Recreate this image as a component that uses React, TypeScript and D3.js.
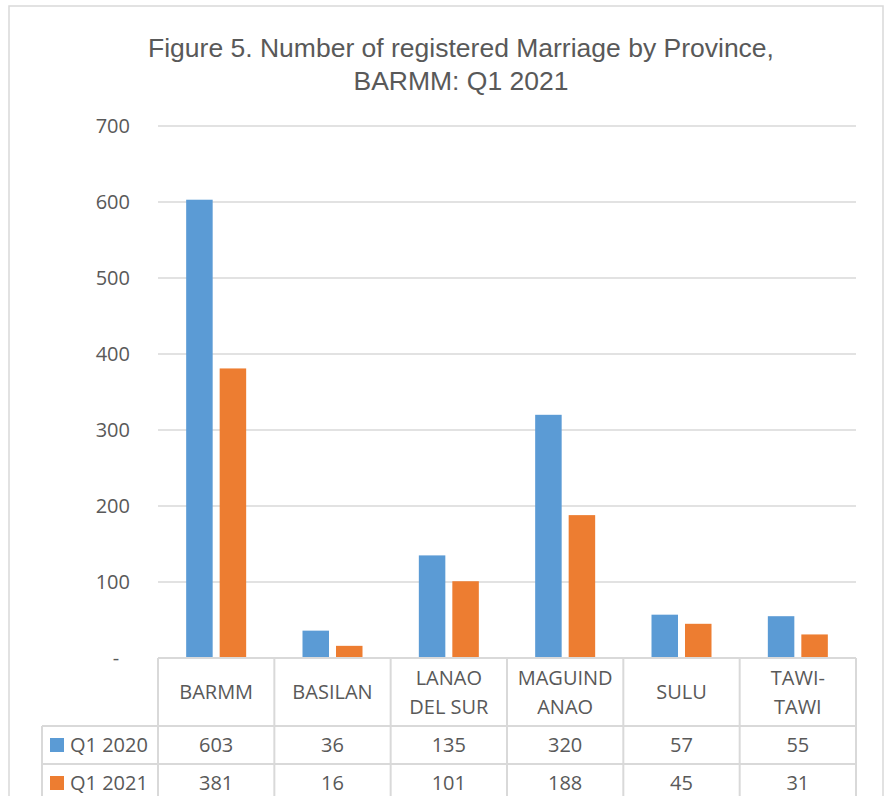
import React from "react";
import * as d3 from "d3";

const categories = ["BARMM", "BASILAN", "LANAO DEL SUR", "MAGUINDANAO", "SULU", "TAWI-TAWI"];
const categoryLines = [["BARMM"], ["BASILAN"], ["LANAO", "DEL SUR"], ["MAGUIND", "ANAO"], ["SULU"], ["TAWI-", "TAWI"]];
const seriesNames = ["Q1 2020", "Q1 2021"];
const q12020 = [603, 36, 135, 320, 57, 55];
const q12021 = [381, 16, 101, 188, 45, 31];
const yTicks = [0, 100, 200, 300, 400, 500, 600, 700];
const colors = ["#5B9BD5", "#ED7D31"];

export default function App() {
  const W = 884, H = 796;
  const plotLeft = 158, plotRight = 856, plotTop = 126, plotBottom = 658;
  const x = d3.scaleBand<string>().domain(categories).range([plotLeft, plotRight]).paddingInner(0).paddingOuter(0);
  const y = d3.scaleLinear().domain([0, 700]).range([plotBottom, plotTop]);
  const bw = x.bandwidth();
  const barW = 26.5, gap = 7;
  const series = [q12020, q12021];
  const grid = "#d9d9d9";
  const text = "#595959";
  const font = "'Open Sans', 'Noto Sans', sans-serif";
  const fs = 20;
  const headerBottom = 726, row1Bottom = 764, row2Bottom = 802;
  const tableLeft = 42;
  const rowTops = [headerBottom, row1Bottom];
  const rowBottoms = [row1Bottom, row2Bottom];

  return (
    <svg width={W} height={H} style={{ position: "absolute", left: 0, top: 0, background: "#fff" }}>
      <rect x={9} y={6} width={874} height={H + 10} fill="#fff" stroke={grid} strokeWidth={1.5} />
      <text x={461} y={57} textAnchor="middle" fontFamily="'Liberation Sans', Arial, sans-serif" fontSize={26.5} fill={text}>
        Figure 5. Number of registered Marriage by Province,
      </text>
      <text x={461} y={90} textAnchor="middle" fontFamily="'Liberation Sans', Arial, sans-serif" fontSize={26.5} fill={text}>
        BARMM: Q1 2021
      </text>
      {yTicks.map((t) => (
        <g key={t}>
          {t > 0 && <line x1={plotLeft} x2={plotRight} y1={y(t)} y2={y(t)} stroke={grid} strokeWidth={1.5} />}
          <text
            x={t === 0 ? 116 : 130}
            y={y(t)}
            dy="0.35em"
            textAnchor={t === 0 ? "middle" : "end"}
            fontFamily={font}
            fontSize={fs}
            fill={text}
          >
            {t === 0 ? "-" : t}
          </text>
        </g>
      ))}
      {categories.map((c, i) => {
        const cx = (x(c) as number) + bw / 2;
        return series.map((s, k) => {
          const bx = k === 0 ? cx - gap / 2 - barW : cx + gap / 2;
          return <rect key={c + k} x={bx} y={y(s[i])} width={barW} height={y(0) - y(s[i])} fill={colors[k]} />;
        });
      })}
      <g stroke={grid} strokeWidth={2} fill="none">
        <line x1={plotLeft} x2={plotRight} y1={plotBottom} y2={plotBottom} />
        <line x1={tableLeft} x2={plotRight} y1={headerBottom} y2={headerBottom} />
        <line x1={tableLeft} x2={plotRight} y1={row1Bottom} y2={row1Bottom} />
        <line x1={tableLeft} x2={tableLeft} y1={headerBottom} y2={row2Bottom} />
        {categories.map((c) => (
          <line key={c} x1={x(c) as number} x2={x(c) as number} y1={plotBottom} y2={row2Bottom} />
        ))}
        <line x1={plotRight} x2={plotRight} y1={plotBottom} y2={row2Bottom} />
      </g>
      {categories.map((c, i) => {
        const cx = (x(c) as number) + bw / 2;
        const lines = categoryLines[i];
        const mid = (plotBottom + headerBottom) / 2;
        return lines.map((l, j) => (
          <text
            key={c + j}
            x={cx}
            y={lines.length === 1 ? mid : mid + (j - 0.5) * 29}
            dy="0.35em"
            textAnchor="middle"
            fontFamily={font}
            fontSize={fs}
            fill={text}
          >
            {l}
          </text>
        ));
      })}
      {seriesNames.map((n, k) => {
        const cy = (rowTops[k] + rowBottoms[k]) / 2;
        return (
          <g key={n}>
            <rect x={50} y={cy - 7} width={14} height={14} fill={colors[k]} />
            <text x={70} y={cy} dy="0.35em" fontFamily={font} fontSize={fs} fill={text}>
              {n}
            </text>
            {categories.map((c, i) => (
              <text
                key={c}
                x={(x(c) as number) + bw / 2}
                y={cy}
                dy="0.35em"
                textAnchor="middle"
                fontFamily={font}
                fontSize={fs}
                fill={text}
              >
                {series[k][i]}
              </text>
            ))}
          </g>
        );
      })}
    </svg>
  );
}
